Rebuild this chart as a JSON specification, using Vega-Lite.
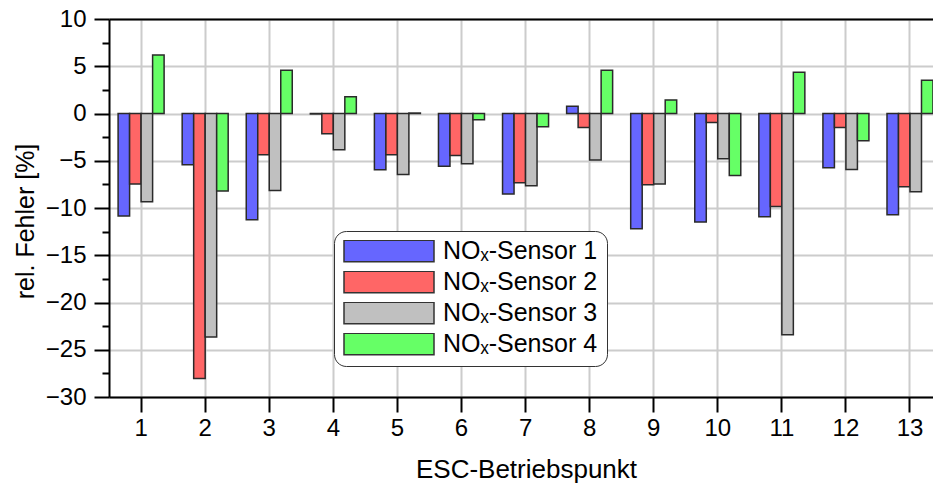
{
  "$schema": "https://vega.github.io/schema/vega-lite/v6.json",
  "width": 824,
  "height": 378,
  "autosize": {"type": "none"},
  "padding": {"left": 109, "top": 19, "right": 0, "bottom": 86},
  "config": {
    "font": "Liberation Sans",
    "view": {"stroke": null},
    "axis": {"labelFont": "Liberation Sans", "titleFont": "Liberation Sans", "labelColor": "#000", "titleColor": "#000", "titleFontWeight": "normal"},
    "legend": {"labelFont": "Liberation Sans"}
  },
  "data": {"values": [
    {"p": 1, "s": "NOₓ-Sensor 1", "v": -10.85},
    {"p": 1, "s": "NOₓ-Sensor 2", "v": -7.47},
    {"p": 1, "s": "NOₓ-Sensor 3", "v": -9.34},
    {"p": 1, "s": "NOₓ-Sensor 4", "v": 6.2},
    {"p": 2, "s": "NOₓ-Sensor 1", "v": -5.43},
    {"p": 2, "s": "NOₓ-Sensor 2", "v": -28.05},
    {"p": 2, "s": "NOₓ-Sensor 3", "v": -23.64},
    {"p": 2, "s": "NOₓ-Sensor 4", "v": -8.21},
    {"p": 3, "s": "NOₓ-Sensor 1", "v": -11.24},
    {"p": 3, "s": "NOₓ-Sensor 2", "v": -4.37},
    {"p": 3, "s": "NOₓ-Sensor 3", "v": -8.14},
    {"p": 3, "s": "NOₓ-Sensor 4", "v": 4.58},
    {"p": 4, "s": "NOₓ-Sensor 1", "v": -0.05},
    {"p": 4, "s": "NOₓ-Sensor 2", "v": -2.15},
    {"p": 4, "s": "NOₓ-Sensor 3", "v": -3.84},
    {"p": 4, "s": "NOₓ-Sensor 4", "v": 1.76},
    {"p": 5, "s": "NOₓ-Sensor 1", "v": -5.95},
    {"p": 5, "s": "NOₓ-Sensor 2", "v": -4.37},
    {"p": 5, "s": "NOₓ-Sensor 3", "v": -6.45},
    {"p": 5, "s": "NOₓ-Sensor 4", "v": 0.05},
    {"p": 6, "s": "NOₓ-Sensor 1", "v": -5.57},
    {"p": 6, "s": "NOₓ-Sensor 2", "v": -4.44},
    {"p": 6, "s": "NOₓ-Sensor 3", "v": -5.32},
    {"p": 6, "s": "NOₓ-Sensor 4", "v": -0.67},
    {"p": 7, "s": "NOₓ-Sensor 1", "v": -8.53},
    {"p": 7, "s": "NOₓ-Sensor 2", "v": -7.33},
    {"p": 7, "s": "NOₓ-Sensor 3", "v": -7.65},
    {"p": 7, "s": "NOₓ-Sensor 4", "v": -1.41},
    {"p": 8, "s": "NOₓ-Sensor 1", "v": 0.78},
    {"p": 8, "s": "NOₓ-Sensor 2", "v": -1.48},
    {"p": 8, "s": "NOₓ-Sensor 3", "v": -4.93},
    {"p": 8, "s": "NOₓ-Sensor 4", "v": 4.58},
    {"p": 9, "s": "NOₓ-Sensor 1", "v": -12.19},
    {"p": 9, "s": "NOₓ-Sensor 2", "v": -7.54},
    {"p": 9, "s": "NOₓ-Sensor 3", "v": -7.47},
    {"p": 9, "s": "NOₓ-Sensor 4", "v": 1.44},
    {"p": 10, "s": "NOₓ-Sensor 1", "v": -11.49},
    {"p": 10, "s": "NOₓ-Sensor 2", "v": -0.95},
    {"p": 10, "s": "NOₓ-Sensor 3", "v": -4.79},
    {"p": 10, "s": "NOₓ-Sensor 4", "v": -6.55},
    {"p": 11, "s": "NOₓ-Sensor 1", "v": -10.92},
    {"p": 11, "s": "NOₓ-Sensor 2", "v": -9.83},
    {"p": 11, "s": "NOₓ-Sensor 3", "v": -23.4},
    {"p": 11, "s": "NOₓ-Sensor 4", "v": 4.37},
    {"p": 12, "s": "NOₓ-Sensor 1", "v": -5.74},
    {"p": 12, "s": "NOₓ-Sensor 2", "v": -1.48},
    {"p": 12, "s": "NOₓ-Sensor 3", "v": -5.92},
    {"p": 12, "s": "NOₓ-Sensor 4", "v": -2.89},
    {"p": 13, "s": "NOₓ-Sensor 1", "v": -10.71},
    {"p": 13, "s": "NOₓ-Sensor 2", "v": -7.75},
    {"p": 13, "s": "NOₓ-Sensor 3", "v": -8.28},
    {"p": 13, "s": "NOₓ-Sensor 4", "v": 3.52}
  ]},
  "resolve": {"axis": {"x": "independent", "y": "independent"}},
  "layer": [
    {
      "mark": {"type": "bar", "stroke": "#2a2a2a", "strokeWidth": 1.5},
      "encoding": {
        "x": {
          "field": "p", "type": "ordinal",
          "scale": {"type": "band", "paddingInner": 0.282, "paddingOuter": 0.071, "align": 1},
          "axis": {
            "title": "ESC-Betriebspunkt", "titleFontSize": 26, "titleX": 417, "titleY": 80, "titleBaseline": "alphabetic", "titleAnchor": null,
            "labelFontSize": 24, "labelAngle": 0, "labelBaseline": "alphabetic", "labelPadding": 23,
            "tickSize": 15, "tickColor": "#000", "tickWidth": 2,
            "domainColor": "#000", "domainWidth": 2,
            "grid": true, "gridColor": "#cccccc", "gridWidth": 2
          }
        },
        "xOffset": {"field": "s", "type": "nominal"},
        "y": {
          "field": "v", "type": "quantitative",
          "scale": {"domain": [-30, 10], "nice": false},
          "axis": {
            "title": "rel. Fehler [%]", "titleFontSize": 25, "titleAngle": -90, "titleX": -76, "titleY": 202, "titleAlign": "center", "titleBaseline": "alphabetic",
            "values": [-30, -25, -20, -15, -10, -5, 0, 5, 10],
            "labelFontSize": 24, "labelPadding": 8,
            "tickSize": 15, "tickColor": "#000", "tickWidth": 2,
            "domainColor": "#000", "domainWidth": 2,
            "grid": true, "gridColor": "#cccccc", "gridWidth": 2
          }
        },
        "color": {
          "field": "s", "type": "nominal",
          "scale": {"domain": ["NOₓ-Sensor 1", "NOₓ-Sensor 2", "NOₓ-Sensor 3", "NOₓ-Sensor 4"], "range": ["#6666ff", "#ff6666", "#c0c0c0", "#66ff66"]},
          "legend": {
            "title": null, "orient": "none", "legendX": 225, "legendY": 212,
            "symbolType": "M-1,-0.239L1,-0.239L1,0.239L-1,0.239Z", "symbolSize": 8100,
            "symbolStrokeColor": "#333333", "symbolStrokeWidth": 1.5, "symbolOpacity": 1,
            "clipHeight": 22, "rowPadding": 6,
            "labelFontSize": 25, "labelOffset": 8, "labelColor": "#000", "labelLimit": 400,
            "fillColor": "#ffffff", "strokeColor": "#333333", "cornerRadius": 12, "padding": 9
          }
        }
      }
    },
    {
      "mark": {"type": "bar", "opacity": 0},
      "encoding": {
        "x": {
          "field": "p", "type": "ordinal",
          "scale": {"type": "band", "paddingInner": 0.282, "paddingOuter": 0.071, "align": 1},
          "axis": {"orient": "top", "title": null, "labels": false, "ticks": false, "grid": false, "domainColor": "#000", "domainWidth": 2}
        },
        "y": {
          "field": "v", "type": "quantitative",
          "scale": {"domain": [-30, 10], "nice": false},
          "axis": {"orient": "left", "title": null, "labels": false, "grid": false, "domain": false,
            "values": [-27.5, -22.5, -17.5, -12.5, -7.5, -2.5, 2.5, 7.5],
            "tickSize": 7, "tickColor": "#000", "tickWidth": 2}
        }
      }
    }
  ]
}
